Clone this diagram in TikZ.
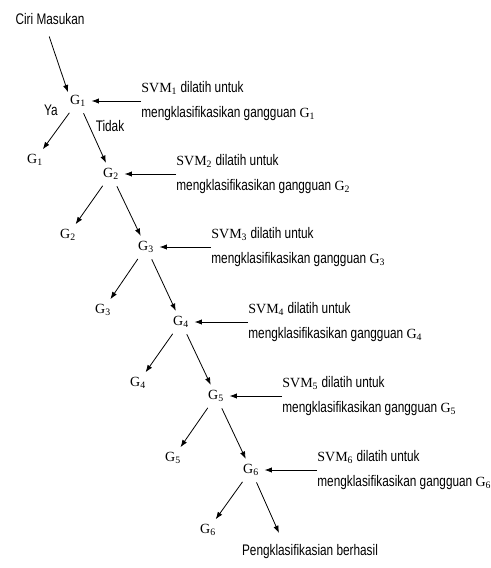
\documentclass[tikz,border=0pt]{standalone}
\usepackage{fontspec}
\setmainfont{Liberation Sans}[FakeStretch=0.77]
\newfontfamily\tms{Liberation Serif}
\usetikzlibrary{arrows.meta}
\newcommand{\gx}[1]{{\tms\fontsize{10.5}{12}\selectfont G\textsubscript{#1}}}
\newcommand{\svmx}[1]{{\tms\fontsize{10.5}{12}\selectfont SVM\textsubscript{#1}}}
\tikzset{
  txt/.style={inner sep=1pt,font=\fontsize{11.5}{13}\selectfont},
  note/.style={txt,anchor=west,align=left,inner sep=0pt},
  tipped/.style={-{Latex[length=5.5pt,width=4pt]}},
  branch/.style={tipped,shorten <=4pt,shorten >=3pt},
  feed/.style={tipped,shorten >=3pt}
}
\begin{document}
\begin{tikzpicture}[x=0.75pt,y=-0.75pt,line width=0.6pt]
\useasboundingbox (0,0) rectangle (491,568);
%input
\node[txt] (ciri) at (50,19) {Ciri Masukan};
%tree nodes
\node[txt] (g1) at (78,101) {\gx{1}};
\node[txt] (g2) at (111,174) {\gx{2}};
\node[txt] (g3) at (146,247) {\gx{3}};
\node[txt] (g4) at (181,322) {\gx{4}};
\node[txt] (g5) at (216,396) {\gx{5}};
\node[txt] (g6) at (251,470) {\gx{6}};
%leaves
\node[txt] (l1) at (35,160) {\gx{1}};
\node[txt] (l2) at (68,235) {\gx{2}};
\node[txt] (l3) at (103,310) {\gx{3}};
\node[txt] (l4) at (138,383) {\gx{4}};
\node[txt] (l5) at (173,458) {\gx{5}};
\node[txt] (l6) at (208,530) {\gx{6}};
\node[txt] (done) at (310,552) {Pengklasifikasian berhasil};
\coordinate (tip) at (279,533);
%svm notes
\node[note] (n1) at (141,101) {\svmx{1} dilatih untuk\\[5.5pt]mengklasifikasikan gangguan \gx{1}};
\node[note] (n2) at (176,174) {\svmx{2} dilatih untuk\\[5.5pt]mengklasifikasikan gangguan \gx{2}};
\node[note] (n3) at (211,247) {\svmx{3} dilatih untuk\\[5.5pt]mengklasifikasikan gangguan \gx{3}};
\node[note] (n4) at (248,322) {\svmx{4} dilatih untuk\\[5.5pt]mengklasifikasikan gangguan \gx{4}};
\node[note] (n5) at (282,396) {\svmx{5} dilatih untuk\\[5.5pt]mengklasifikasikan gangguan \gx{5}};
\node[note] (n6) at (317,470) {\svmx{6} dilatih untuk\\[5.5pt]mengklasifikasikan gangguan \gx{6}};
%arrows
\draw[tipped,shorten <=8pt,shorten >=1pt] (ciri.240) -- (g1.north west);
\draw[branch] (g1) -- (l1);
\draw[branch] (g1) -- (g2);
\draw[branch] (g2) -- (l2);
\draw[branch] (g2) -- (g3);
\draw[branch] (g3) -- (l3);
\draw[branch] (g3) -- (g4);
\draw[branch] (g4) -- (l4);
\draw[branch] (g4) -- (g5);
\draw[branch] (g5) -- (l5);
\draw[branch] (g5) -- (g6);
\draw[branch] (g6) -- (l6);
\draw[tipped,shorten <=4pt] (g6) -- (tip);
\draw[feed] (n1.west) -- (n1.west -| g1.east);
\draw[feed] (n2.west) -- (n2.west -| g2.east);
\draw[feed] (n3.west) -- (n3.west -| g3.east);
\draw[feed] (n4.west) -- (n4.west -| g4.east);
\draw[feed] (n5.west) -- (n5.west -| g5.east);
\draw[feed] (n6.west) -- (n6.west -| g6.east);
%branch labels
\node[txt] (ya) at (51,110) {Ya};
\node[txt] (tidak) at (110,126) {Tidak};
\end{tikzpicture}
\end{document}
